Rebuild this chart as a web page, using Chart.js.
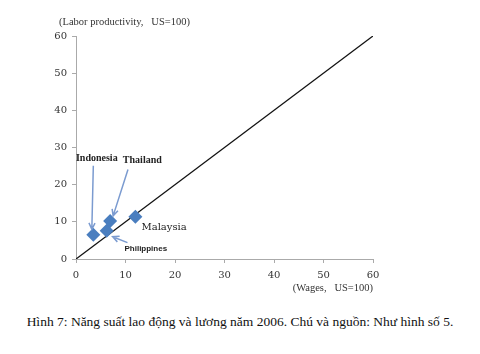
<!DOCTYPE html>
<html>
<head>
<meta charset="utf-8">
<script src="https://cdn.jsdelivr.net/npm/chart.js@4/dist/chart.umd.min.js"></script>
<style>
  body { margin: 0; background: #fff; }
  #wrap { position: relative; width: 480px; height: 300px; }
  #caption { position: absolute; left: 0; top: 314px; width: 480px; text-align: center;
             font-family: "Liberation Serif", serif; font-size: 13.5px; color: #111; }
</style>
</head>
<body>
<div id="wrap"><canvas id="chart" width="480" height="300"></canvas></div>
<div id="caption">Hình 7: Năng suất lao động và lương năm 2006. Chú và nguồn: Như hình số 5.</div>
<script>
  // countries, wages (x) and labor productivity (y), US=100
  var countries = ['Indonesia', 'Philippines', 'Thailand', 'Malaysia'];
  var wages = [3.5, 6.2, 6.9, 12];
  var productivity = [6.5, 7.6, 10.2, 11.4];
  var parityLine = [0, 60];
  var tickValues = [0, 10, 20, 30, 40, 50, 60];

  // label anchors, in data units
  var labelX = [4.2, 14.1, 13.4, 17.8];
  var labelY = [27, 2.7, 26.5, 8.6];
  // arrow start/end, in data units (Malaysia has none)
  var arrowFrom = [[3.5, 25.1], [10.4, 4.4], [10.5, 24.1], null];
  var arrowTo = [[3.2, 8.0], [7.4, 6.0], [7.5, 11.6], null];

  var points = [];
  for (var i = 0; i < countries.length; i++) {
      points.push({x: wages[i], y: productivity[i]});
  }

  function drawArrow(ctx, x1, y1, x2, y2) {
      var a = Math.atan2(y2 - y1, x2 - x1);
      ctx.beginPath();
      ctx.moveTo(x1, y1);
      ctx.lineTo(x2, y2);
      ctx.moveTo(x2 - 7 * Math.cos(a - 0.45), y2 - 7 * Math.sin(a - 0.45));
      ctx.lineTo(x2, y2);
      ctx.lineTo(x2 - 7 * Math.cos(a + 0.45), y2 - 7 * Math.sin(a + 0.45));
      ctx.stroke();
  }

  var labelsPlugin = {
      id: 'labels',
      afterDatasetsDraw: function(chart) {
          var ctx = chart.ctx;
          var xs = chart.scales.x, ys = chart.scales.y;
          ctx.save();
          ctx.strokeStyle = '#7b9bd0';
          ctx.lineWidth = 1.5;
          for (var i = 0; i < countries.length; i++) {
              if (!arrowFrom[i]) continue;
              drawArrow(ctx,
                  xs.getPixelForValue(arrowFrom[i][0]), ys.getPixelForValue(arrowFrom[i][1]),
                  xs.getPixelForValue(arrowTo[i][0]), ys.getPixelForValue(arrowTo[i][1]));
          }
          ctx.fillStyle = '#222';
          ctx.textAlign = 'center';
          ctx.textBaseline = 'middle';
          for (var j = 0; j < countries.length; j++) {
              if (countries[j] === 'Philippines') {
                  ctx.font = 'bold 8px "Liberation Sans", sans-serif';
              } else if (countries[j] === 'Malaysia') {
                  ctx.font = '10px "DejaVu Serif", serif';
              } else {
                  ctx.font = 'bold 10px "Liberation Serif", serif';
              }
              ctx.fillText(countries[j], xs.getPixelForValue(labelX[j]), ys.getPixelForValue(labelY[j]));
          }
          // axis titles
          ctx.font = '10.5px "Liberation Serif", serif';
          ctx.fillStyle = '#333';
          ctx.textAlign = 'left';
          ctx.fillText('(Labor productivity,   US=100)', 59, 22);
          ctx.textAlign = 'right';
          ctx.fillText('(Wages,   US=100)', chart.chartArea.right, 288);
          ctx.restore();
      }
  };

  var chart = new Chart(document.getElementById('chart').getContext('2d'), {
      type: 'scatter',
      data: {
          datasets: [
              {
                  label: 'Countries',
                  data: points,
                  pointStyle: 'rectRot',
                  pointRadius: 7,
                  backgroundColor: '#4a7ebf',
                  borderColor: '#4a7ebf',
                  borderWidth: 0,
                  order: 1
              },
              {
                  label: 'Parity',
                  data: [{x: parityLine[0], y: parityLine[0]}, {x: parityLine[1], y: parityLine[1]}],
                  showLine: true,
                  pointRadius: 0,
                  borderColor: '#111',
                  borderWidth: 1.3,
                  order: 2
              }
          ]
      },
      options: {
          responsive: false,
          animation: false,
          devicePixelRatio: 1,
          layout: { padding: { left: 0, right: 107, top: 36, bottom: 0 } },
          plugins: { legend: { display: false }, tooltip: { enabled: false } },
          scales: {
              x: {
                  type: 'linear', min: 0, max: 60,
                  afterBuildTicks: function(s) { s.ticks = tickValues.map(function(v) { return {value: v}; }); },
                  afterFit: function(s) { s.height = 41; },
                  grid: { drawOnChartArea: false, drawTicks: true, tickLength: 4, color: '#aaa' },
                  border: { color: '#aaa' },
                  ticks: { color: '#333', padding: 6, font: { family: '"DejaVu Serif", serif', size: 10 } }
              },
              y: {
                  type: 'linear', min: 0, max: 60,
                  afterBuildTicks: function(s) { s.ticks = tickValues.map(function(v) { return {value: v}; }); },
                  afterFit: function(s) { s.width = 76; },
                  grid: { drawOnChartArea: false, drawTicks: true, tickLength: 4, color: '#aaa' },
                  border: { color: '#aaa' },
                  ticks: { color: '#333', padding: 5, font: { family: '"DejaVu Serif", serif', size: 10 } }
              }
          }
      },
      plugins: [labelsPlugin]
  });
</script>
</body>
</html>
